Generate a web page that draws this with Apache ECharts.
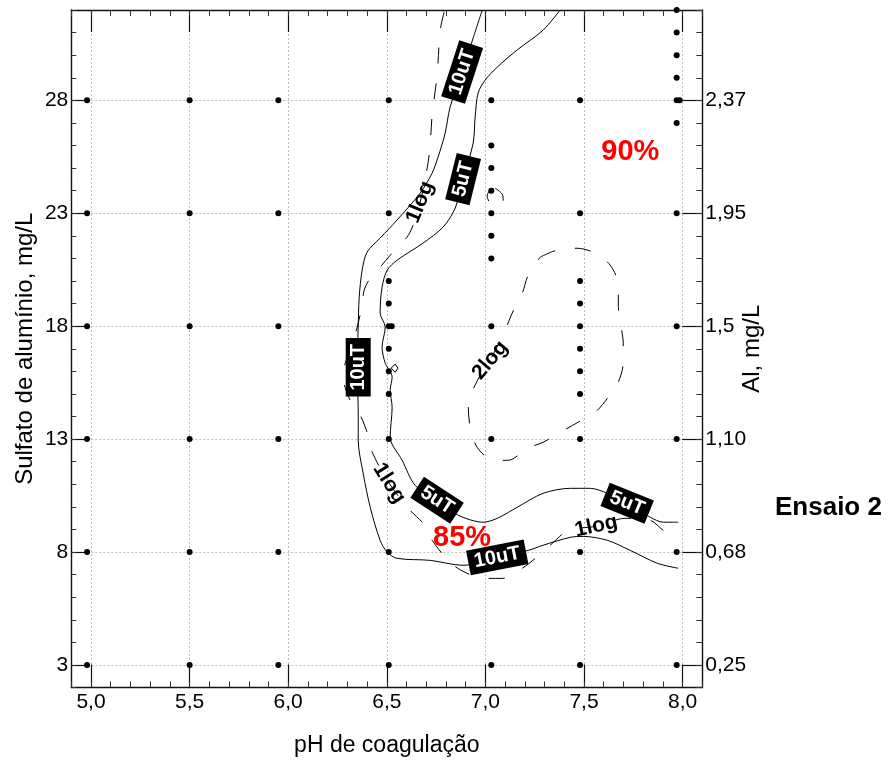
<!DOCTYPE html>
<html>
<head>
<meta charset="utf-8">
<script src="https://cdn.jsdelivr.net/npm/echarts@6/dist/echarts.min.js"></script>
<style>
  html, body { margin: 0; padding: 0; background: #fff; }
  #chart { width: 890px; height: 762px; }
</style>
</head>
<body>
<div id="chart"></div>
<script>
// ---- Data: coagulation diagram (pH x aluminium sulfate dose) ----

// Axis ticks
const phTicks = [5.0, 5.5, 6.0, 6.5, 7.0, 7.5, 8.0];
const doseTicks = [3, 8, 13, 18, 23, 28];
const alTicks = ['0,25', '0,68', '1,10', '1,5', '1,95', '2,37'];

// Jar-test points: coagulation pH of each column and the doses tested there
const phCols = [4.98, 5.50, 5.95, 6.51, 7.03, 7.48, 7.97];
const dosesByCol = [
  [3, 8, 13, 18, 23, 28],
  [3, 8, 13, 18, 23, 28],
  [3, 8, 13, 18, 23, 28],
  [3, 8, 13, 15, 16, 17, 18, 19, 20, 23, 28],
  [3, 8, 13, 18, 21, 22, 23, 24, 25, 26, 28],
  [3, 8, 13, 15, 16, 17, 18, 19, 20, 23, 28],
  [3, 8, 13, 18, 23, 27, 28, 29, 30, 31, 32]
];
const replicatePoints = [[6.525, 18], [7.985, 28]];

// Residual turbidity 10 uT (solid)
const turb10 = [
  [6.984, 32.0], [6.938, 30.76], [6.882, 29.25], [6.821, 27.70], [6.796, 26.55],
  [6.760, 25.49], [6.730, 24.78], [6.669, 23.89], [6.552, 22.70], [6.466, 21.90],
  [6.400, 21.28], [6.375, 20.48], [6.360, 19.28], [6.355, 17.96], [6.350, 16.18],
  [6.355, 14.14], [6.355, 12.95], [6.380, 11.49], [6.416, 9.98], [6.466, 8.52],
  [6.502, 7.99], [6.552, 7.72], [6.720, 7.63], [6.887, 7.41], [7.060, 7.76],
  [7.217, 8.07], [7.293, 8.30], [7.430, 8.65], [7.496, 8.69], [7.618, 8.52],
  [7.735, 8.07], [7.872, 7.50], [7.978, 7.28]
];

// Residual turbidity 5 uT (solid)
const turb5 = [
  [7.379, 32.0], [7.293, 31.11], [7.161, 30.23], [7.060, 29.47], [6.999, 28.90],
  [6.963, 28.32], [6.948, 27.26], [6.938, 26.11], [6.887, 24.51], [6.847, 23.23],
  [6.786, 22.39], [6.684, 21.68], [6.552, 20.92], [6.502, 20.48], [6.476, 19.73],
  [6.466, 18.58], [6.492, 17.96], [6.476, 17.07], [6.492, 16.36], [6.527, 15.74],
  [6.517, 15.16], [6.527, 14.41], [6.517, 13.08], [6.578, 12.06], [6.644, 10.95],
  [6.755, 10.29], [6.862, 9.63], [6.989, 9.32], [7.060, 9.49], [7.161, 9.98],
  [7.293, 10.60], [7.430, 10.82], [7.532, 10.82], [7.618, 10.60], [7.719, 10.16],
  [7.836, 9.54], [7.902, 9.32], [7.978, 9.32]
];

// 1 log removal (dashed)
const log1 = [
  [6.791, 31.91], [6.771, 31.11], [6.755, 29.12], [6.730, 27.35], [6.715, 25.58],
  [6.669, 23.49], [6.618, 22.16], [6.568, 21.59], [6.517, 21.14], [6.466, 20.61],
  [6.416, 20.13], [6.385, 19.59], [6.375, 18.93], [6.339, 17.60], [6.289, 16.36],
  [6.279, 15.74], [6.314, 14.72], [6.365, 14.06], [6.405, 13.17], [6.426, 12.42],
  [6.512, 11.04], [6.618, 9.85], [6.694, 9.18], [6.730, 8.52], [6.821, 7.54],
  [6.897, 7.10], [6.999, 6.83], [7.085, 6.83], [7.187, 7.28], [7.253, 7.72],
  [7.339, 8.38], [7.420, 8.96], [7.561, 9.14], [7.709, 9.49], [7.836, 9.40],
  [7.902, 8.96], [7.978, 8.52]
];

// 2 log removal (dashed, closed)
const log2 = [
  [7.278, 21.06], [7.364, 21.37], [7.466, 21.45], [7.557, 21.23], [7.633, 20.70],
  [7.674, 19.82], [7.674, 18.93], [7.684, 18.18], [7.699, 17.25], [7.699, 16.40],
  [7.674, 15.52], [7.623, 14.85], [7.557, 14.19], [7.471, 13.75], [7.379, 13.30],
  [7.293, 12.86], [7.212, 12.59], [7.116, 12.06], [7.040, 12.06], [6.958, 12.64],
  [6.923, 13.52], [6.913, 14.50], [6.960, 15.60], [7.024, 16.49], [7.100, 17.82],
  [7.136, 18.58], [7.187, 19.46], [7.217, 20.26], [7.278, 21.06]
];

// Small isolated 1 log islands
const log1IslandA = [
  [7.050, 24.11], [7.085, 23.85], [7.090, 23.58], [7.065, 23.27], [7.029, 23.40],
  [7.009, 23.76], [7.024, 24.03], [7.050, 24.11]
];
const log1IslandB = [
  [6.542, 16.32], [6.557, 16.14], [6.542, 15.96], [6.522, 16.14], [6.542, 16.32]
];

// Contour labels
const turbLabelText = ['10uT', '5uT', '10uT', '5uT', '10uT', '5uT'];
const turbLabelAt = [[6.882, 29.25], [6.887, 24.51], [6.355, 16.18], [6.755, 10.29], [7.060, 7.76], [7.719, 10.16]];
const logLabelText = ['1log', '2log', '1log', '1log'];
const logLabelAt = [[6.669, 23.49], [7.024, 16.49], [6.512, 11.04], [7.562, 9.14]];
const efficiencyText = ['90%', '85%'];
const efficiencyAt = [[7.735, 25.71], [6.882, 8.61]];

// ---- Styling ----
const FONT = "'Liberation Sans', Arial, Helvetica, sans-serif";
const turbAngles = [72, 76, 90, -33, 11, -22];
const logAngles = [68, 50, -58, 12];
const gridLine = { show: true, lineStyle: { color: '#bdbdbd', width: 1, type: [2, 2] } };
const frameLine = { show: true, lineStyle: { color: '#111', width: 1.4 } };

const fmtPh = v => v.toFixed(1).replace('.', ',');
const fmtAl = v => alTicks[doseTicks.indexOf(v)] || '';

const points = [];
phCols.forEach((ph, i) => dosesByCol[i].forEach(d => points.push([ph, d])));
replicatePoints.forEach(p => points.push(p));

function contour(data, dashed) {
  return {
    type: 'line', data: data, xAxisIndex: 0, yAxisIndex: 0,
    showSymbol: false, symbol: 'none', smooth: 0.3, silent: true, z: 3,
    lineStyle: { color: '#000', width: 1, opacity: 1, type: dashed ? [16, 20] : 'solid' }
  };
}

function labelSeries(texts, coords, angles, style) {
  return {
    type: 'scatter', xAxisIndex: 0, yAxisIndex: 0, symbolSize: 0, z: 10, silent: true,
    itemStyle: { opacity: 1 },
    data: texts.map((t, i) => ({
      value: coords[i], name: t,
      label: angles ? { rotate: angles[i] } : {}
    })),
    label: Object.assign({
      show: true, position: 'inside', formatter: p => p.name, opacity: 1,
      fontFamily: FONT, align: 'center', verticalAlign: 'middle'
    }, style)
  };
}

const chart = echarts.init(document.getElementById('chart'), null, { renderer: 'canvas' });

chart.setOption({
  animation: false,
  backgroundColor: '#fff',
  textStyle: { fontFamily: FONT },
  title: {
    text: 'Ensaio 2', left: 770, top: 490,
    textStyle: { fontFamily: FONT, fontSize: 26, fontWeight: 'bold', color: '#000' }
  },
  grid: { left: 71.3, right: 187.7, top: 10, bottom: 74.5, containLabel: false, outerBoundsMode: 'none' },
  xAxis: [
    { // bottom, major ticks + labels + grid
      type: 'value', position: 'bottom', min: 4.9, max: 8.1,
      axisLine: frameLine,
      axisTick: { show: true, inside: true, length: 23, customValues: phTicks, lineStyle: { color: '#111', width: 1.2 } },
      axisLabel: { show: true, customValues: phTicks, formatter: fmtPh, margin: 4, fontSize: 21, color: '#000', fontFamily: FONT },
      splitLine: gridLine,
      name: 'pH de coagulação', nameLocation: 'middle', nameGap: 47, nameMoveOverlap: false,
      nameTextStyle: { fontSize: 23, color: '#000', fontFamily: FONT }
    },
    { // bottom, minor ticks
      type: 'value', position: 'bottom', min: 4.9, max: 8.1, interval: 0.1,
      axisLine: { show: false },
      axisTick: { show: true, inside: true, length: 6, lineStyle: { color: '#333', width: 1 } },
      axisLabel: { show: false }, splitLine: { show: false }
    },
    { // top, major ticks
      type: 'value', position: 'top', min: 4.9, max: 8.1,
      axisLine: frameLine,
      axisTick: { show: true, inside: true, length: 22, customValues: phTicks, lineStyle: { color: '#111', width: 1.2 } },
      axisLabel: { show: false }, splitLine: { show: false }
    },
    { // top, minor ticks
      type: 'value', position: 'top', min: 4.9, max: 8.1, interval: 0.1,
      axisLine: { show: false },
      axisTick: { show: true, inside: true, length: 6, lineStyle: { color: '#333', width: 1 } },
      axisLabel: { show: false }, splitLine: { show: false }
    }
  ],
  yAxis: [
    { // left, major ticks + labels + grid
      type: 'value', position: 'left', min: 2, max: 32,
      axisLine: frameLine,
      axisTick: { show: true, inside: true, length: 16, customValues: doseTicks, lineStyle: { color: '#111', width: 1.2 } },
      axisLabel: { show: true, customValues: doseTicks, margin: 3, fontSize: 21, color: '#000', fontFamily: FONT },
      splitLine: gridLine,
      name: 'Sulfato de alumínio, mg/L', nameLocation: 'middle', nameRotate: 90, nameGap: 34, nameMoveOverlap: false,
      nameTextStyle: { fontSize: 24, color: '#000', fontFamily: FONT }
    },
    { // left, minor ticks
      type: 'value', position: 'left', min: 2, max: 32, interval: 1,
      axisLine: { show: false },
      axisTick: { show: true, inside: true, length: 5, lineStyle: { color: '#333', width: 1 } },
      axisLabel: { show: false }, splitLine: { show: false }
    },
    { // right, Al equivalent
      type: 'value', position: 'right', min: 2, max: 32,
      axisLine: frameLine,
      axisTick: { show: true, inside: true, length: 20, customValues: doseTicks, lineStyle: { color: '#111', width: 1.2 } },
      axisLabel: { show: true, customValues: doseTicks, formatter: fmtAl, margin: 3, fontSize: 21, color: '#000', fontFamily: FONT },
      splitLine: { show: false },
      name: 'Al, mg/L', nameLocation: 'middle', nameRotate: 90, nameGap: 38, nameMoveOverlap: false,
      nameTextStyle: { fontSize: 24, color: '#000', fontFamily: FONT }
    },
    { // right, minor ticks
      type: 'value', position: 'right', min: 2, max: 32, interval: 1,
      axisLine: { show: false },
      axisTick: { show: true, inside: true, length: 6, lineStyle: { color: '#333', width: 1 } },
      axisLabel: { show: false }, splitLine: { show: false }
    }
  ],
  series: [
    contour(turb10, false),
    contour(turb5, false),
    contour(log1, true),
    contour(log2, true),
    contour(log1IslandA, true),
    Object.assign(contour(log1IslandB, false), { smooth: false }),
    {
      type: 'scatter', xAxisIndex: 0, yAxisIndex: 0, data: points,
      symbol: 'circle', symbolSize: 6, z: 5, silent: true,
      itemStyle: { color: '#000', opacity: 1 }
    },
    labelSeries(turbLabelText, turbLabelAt, turbAngles, {
      color: '#fff', backgroundColor: '#000', fontSize: 20, fontWeight: 'bold',
      padding: [3, 6, 2, 6]
    }),
    labelSeries(logLabelText, logLabelAt, logAngles, {
      color: '#000', fontSize: 21, fontWeight: 'bold'
    }),
    labelSeries(efficiencyText, efficiencyAt, null, {
      color: '#ff0000', fontSize: 29, fontWeight: 'bold'
    })
  ]
});
</script>
</body>
</html>
